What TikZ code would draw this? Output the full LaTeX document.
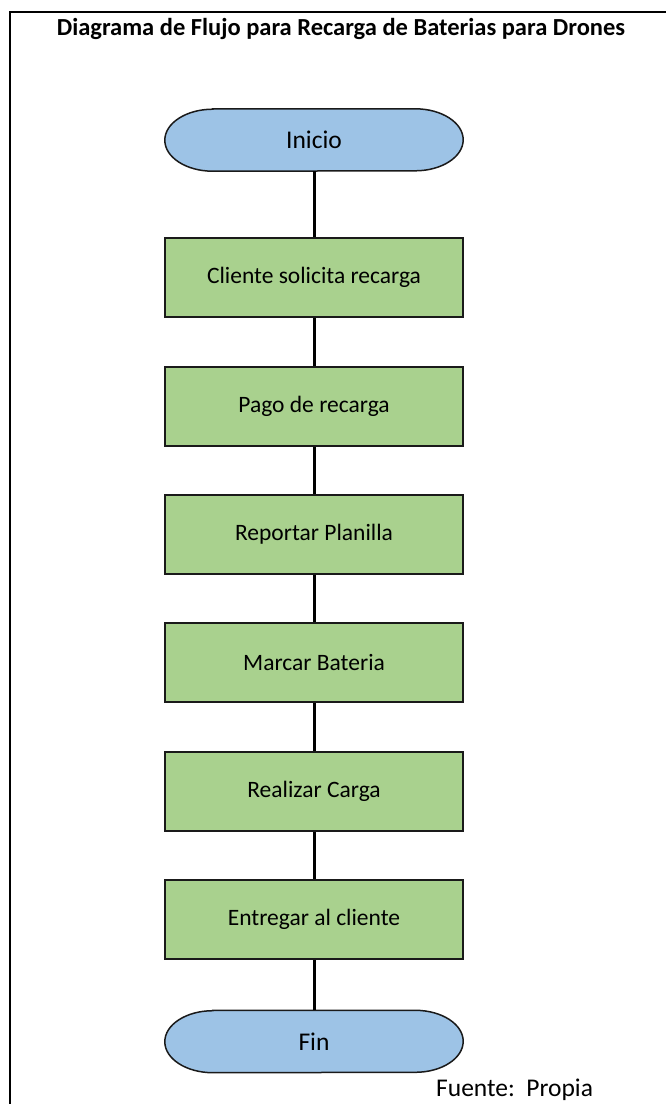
\documentclass[tikz,border=0pt]{standalone}
\usepackage{fontspec}
\setmainfont{Carlito}
\usetikzlibrary{backgrounds}
\definecolor{termblue}{HTML}{9DC3E6}
\definecolor{stepgreen}{HTML}{A9D18E}
\definecolor{edgedark}{HTML}{1A1A1A}
\tikzset{
  txt/.style={font=\fontsize{23.5}{28}\selectfont, text=black},
  bigtxt/.style={font=\fontsize{25.5}{30}\selectfont, text=black},
  stepbox/.style={txt, rectangle, draw=edgedark, line width=1.5pt, fill=stepgreen,
    minimum width=298pt, minimum height=79pt, inner sep=0pt},
  termnode/.style={bigtxt, rectangle, minimum width=298pt, minimum height=62pt, inner sep=0pt},
  termshape/.style={draw=edgedark, line width=1.5pt, fill=termblue},
  link/.style={line width=3pt, black},
  frameline/.style={line width=2.2pt, black}
}
% terminator outline: straight top and bottom with elliptical ends
\newcommand{\termpath}[1]{%
  \draw[termshape] ([xshift=48pt]#1.north west) -- ([xshift=-48pt]#1.north east)
    arc[start angle=90, end angle=-90, x radius=48pt, y radius=31pt]
    -- ([xshift=48pt]#1.south west)
    arc[start angle=270, end angle=90, x radius=48pt, y radius=31pt] -- cycle;}
\begin{document}
\begin{tikzpicture}[x=1pt, y=-1pt]
\useasboundingbox (0,0) rectangle (666,1104);

% frame
\coordinate (ftl) at (10,12);
\coordinate (ftr) at (666,12);
\coordinate (fbl) at (10,1104);
\draw[frameline] (ftr) -- (ftl) -- (fbl);

% title
\node[font=\fontsize{24.5}{29}\selectfont\bfseries] (title) at (341,29)
  {Diagrama de Flujo para Recarga de Baterias para Drones};

% flow
\node[termnode] (ini) at (314,140) {Inicio};
\node[stepbox] (s1) at (314,277.5) {Cliente solicita recarga};
\node[stepbox] (s2) at (314,406.5) {Pago de recarga};
\node[stepbox] (s3) at (314,534.5) {Reportar Planilla};
\node[stepbox] (s4) at (314,662.5) {Marcar Bateria};
\node[stepbox] (s5) at (314,791.5) {Realizar Carga};
\node[stepbox] (s6) at (314,919.5) {Entregar al cliente};
\node[termnode] (fin) at (314,1041.5) {Fin};

\begin{scope}[on background layer]
  \termpath{ini}
  \termpath{fin}
  \draw[link] (ini.south) -- (s1.north);
  \draw[link] (s1.south) -- (s2.north);
  \draw[link] (s2.south) -- (s3.north);
  \draw[link] (s3.south) -- (s4.north);
  \draw[link] (s4.south) -- (s5.north);
  \draw[link] (s5.south) -- (s6.north);
  \draw[link] (s6.south) -- (fin.north);
\end{scope}

% source note
\node[bigtxt, anchor=base west, inner sep=0pt] (src) at (436,1096.5)
  {Fuente:\ \ Propia};
\end{tikzpicture}
\end{document}
